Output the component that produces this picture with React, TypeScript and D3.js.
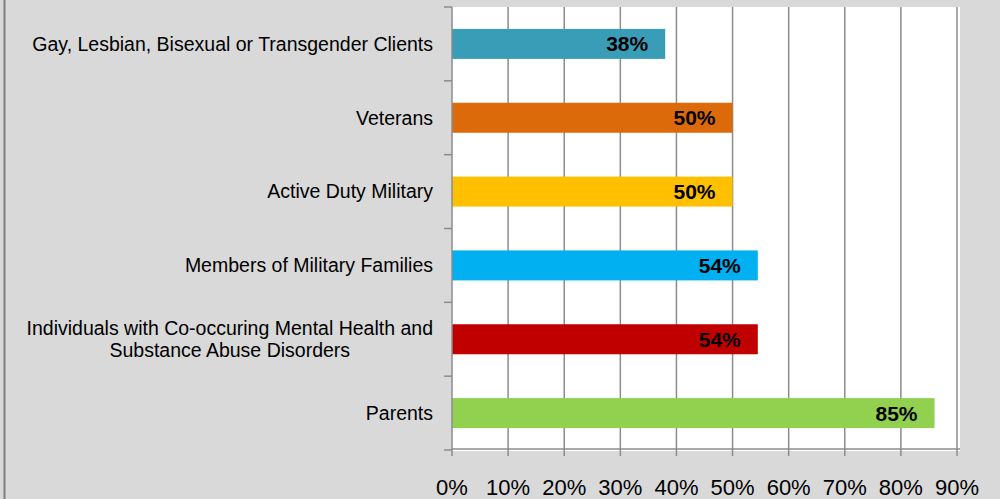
import * as d3 from "d3";

// chart data, top to bottom
const categories = [
  "Gay, Lesbian, Bisexual or Transgender Clients",
  "Veterans",
  "Active Duty Military",
  "Members of Military Families",
  "Individuals with Co-occuring Mental Health and Substance Abuse Disorders",
  "Parents",
];
const values = [0.38, 0.5, 0.5, 0.545, 0.545, 0.86];
const valueLabels = ["38%", "50%", "50%", "54%", "54%", "85%"];
const barColors = ["#3a9db8", "#dc6a0a", "#ffc000", "#00b0f0", "#c00000", "#92d050"];
const xTicks = [0, 0.1, 0.2, 0.3, 0.4, 0.5, 0.6, 0.7, 0.8, 0.9];

const W = 1000;
const H = 499;
const plot = { left: 452, right: 960, top: 7, bottom: 450 };
const FONT = "'Liberation Sans', Arial, sans-serif";
const gridColor = "#8c8c8c";
const catSize = 19.5;

// simple word wrap by character count
const wrap = (s: string, max: number) => {
  const words = s.split(" ");
  const lines: string[] = [];
  let cur = "";
  words.forEach((w) => {
    const next = cur ? cur + " " + w : w;
    if (next.length > max && cur) {
      lines.push(cur);
      cur = w;
    } else cur = next;
  });
  if (cur) lines.push(cur);
  return lines;
};

// measure text width so wrapped labels can be centred as a block
const ctx = document.createElement("canvas").getContext("2d");
const measure = (s: string, size: number) => {
  if (!ctx) return s.length * size * 0.5;
  ctx.font = `${size}px ${FONT}`;
  return ctx.measureText(s).width;
};

export default function App() {
  const x = d3.scaleLinear().domain([0, 0.9]).range([plot.left, 957]);
  const y = d3
    .scaleBand<string>()
    .domain(categories)
    .range([plot.top, plot.bottom])
    .padding(0);
  const step = y.step();
  const barH = 30;
  const fmt = d3.format(".0%");
  const labelRight = 433;

  return (
    <svg
      width={W}
      height={H}
      style={{ position: "absolute", left: 0, top: 0 }}
      fontFamily={FONT}
    >
      <rect x={0} y={0} width={W} height={H} fill="#d9d9d9" />
      <line x1={4.5} x2={4.5} y1={0} y2={H} stroke="#7f7f7f" strokeWidth={2} />

      {/* plot area */}
      <rect
        x={plot.left}
        y={plot.top}
        width={plot.right - plot.left}
        height={plot.bottom - plot.top + 1}
        fill="#ffffff"
      />

      {/* vertical gridlines */}
      {xTicks.slice(1).map((t) => (
        <line
          key={t}
          x1={x(t)}
          x2={x(t)}
          y1={plot.top}
          y2={plot.bottom}
          stroke={gridColor}
          strokeWidth={1.5}
        />
      ))}

      {/* bars */}
      {categories.map((c, i) => {
        const cy = (y(c) ?? 0) + step / 2;
        return (
          <g key={c}>
            <rect
              x={x(0)}
              y={cy - barH / 2}
              width={x(values[i]) - x(0)}
              height={barH}
              fill={barColors[i]}
            />
            <text
              x={x(values[i]) - 17}
              y={cy}
              dy="0.36em"
              textAnchor="end"
              fontSize={21}
              fontWeight="bold"
              fill="#000"
            >
              {valueLabels[i]}
            </text>
          </g>
        );
      })}

      {/* y axis */}
      <line
        x1={plot.left}
        x2={plot.left}
        y1={plot.top}
        y2={plot.bottom}
        stroke={gridColor}
        strokeWidth={1.5}
      />
      {d3.range(categories.length + 1).map((k) => (
        <line
          key={k}
          x1={plot.left - 8}
          x2={plot.left}
          y1={plot.top + k * step}
          y2={plot.top + k * step}
          stroke={gridColor}
          strokeWidth={1.5}
        />
      ))}
      {categories.map((c) => {
        const lines = wrap(c, 47);
        const cy = (y(c) ?? 0) + step / 2;
        const lh = 22;
        const blockW = d3.max(lines, (l) => measure(l, catSize)) ?? 0;
        const multi = lines.length > 1;
        const ax = multi ? labelRight - blockW / 2 : labelRight;
        return (
          <text
            key={c}
            textAnchor={multi ? "middle" : "end"}
            fontSize={catSize}
            fill="#000"
          >
            {lines.map((l, j) => (
              <tspan
                key={j}
                x={ax}
                y={cy + (j - (lines.length - 1) / 2) * lh}
                dy="0.35em"
              >
                {l}
              </tspan>
            ))}
          </text>
        );
      })}

      {/* x axis */}
      <line
        x1={plot.left}
        x2={plot.right}
        y1={plot.bottom - 1}
        y2={plot.bottom - 1}
        stroke={gridColor}
        strokeWidth={1.5}
      />
      {xTicks.map((t) => (
        <g key={t}>
          <line
            x1={x(t)}
            x2={x(t)}
            y1={plot.bottom - 1}
            y2={plot.bottom + 6}
            stroke={gridColor}
            strokeWidth={1.5}
          />
          <text x={x(t)} y={495} textAnchor="middle" fontSize={22} fill="#000">
            {fmt(t)}
          </text>
        </g>
      ))}
    </svg>
  );
}
